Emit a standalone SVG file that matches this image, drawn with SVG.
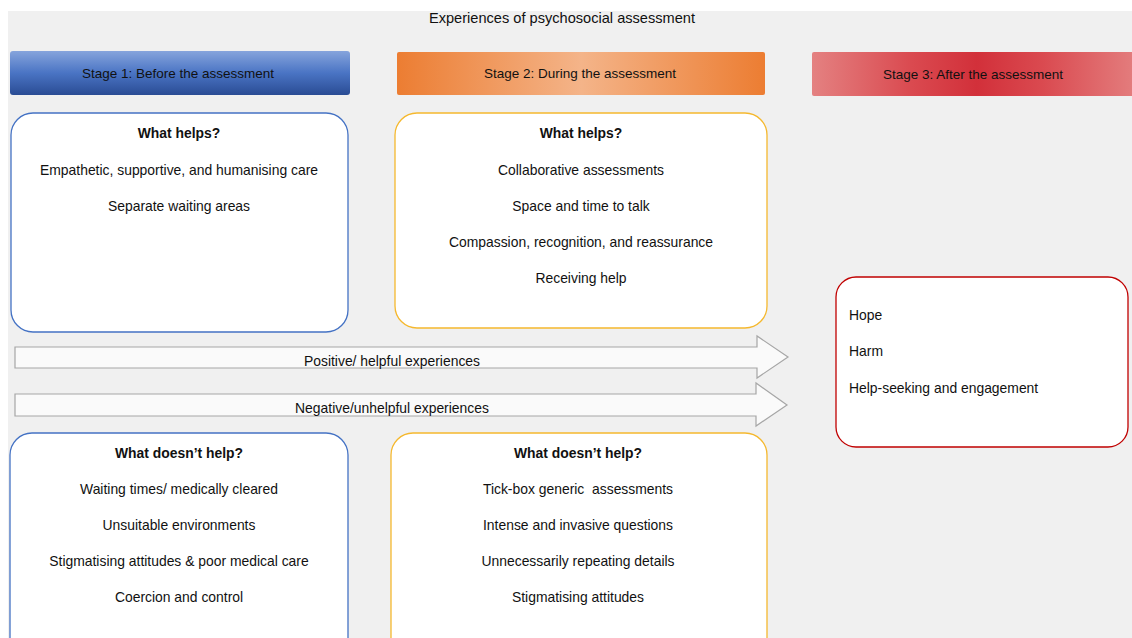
<svg xmlns="http://www.w3.org/2000/svg" width="1132" height="638" viewBox="0 0 1132 638">
<defs>
<style>
text{font-family:"Liberation Sans",Arial,sans-serif;font-size:13.9px;fill:#111}
.c{text-anchor:middle}
.b{font-weight:bold}
.s{font-size:13.5px}
.t{font-size:14.6px}
.box{fill:#fff;stroke-width:1.3}
.arrow{fill:#fafafa;stroke:#a6a6a6;stroke-width:1.2}
</style>
<linearGradient id="g1" x1="0" y1="0" x2="0" y2="1">
<stop offset="0" stop-color="#86a4dc"/><stop offset="0.5" stop-color="#4a74c4"/><stop offset="1" stop-color="#2a4c94"/>
</linearGradient>
<linearGradient id="g2" x1="0" y1="0" x2="1" y2="0">
<stop offset="0" stop-color="#ec7d32"/><stop offset="0.5" stop-color="#f4b489"/><stop offset="1" stop-color="#ec7d32"/>
</linearGradient>
<linearGradient id="g3" x1="0" y1="0" x2="1" y2="0">
<stop offset="0" stop-color="#e48181"/><stop offset="0.3" stop-color="#da4a50"/><stop offset="0.5" stop-color="#d2303a"/><stop offset="0.7" stop-color="#da4a50"/><stop offset="1" stop-color="#e48181"/>
</linearGradient>
</defs>
<rect x="0" y="0" width="1132" height="638" fill="#fff"/>
<rect x="8" y="11" width="1124" height="627" fill="#f0f0f0"/>
<text class="c t" x="562" y="23">Experiences of psychosocial assessment</text>

<g id="stage1"><rect x="10" y="51" width="340" height="44" rx="3" fill="url(#g1)"/><text class="c s" x="178" y="78">Stage 1: Before the assessment</text></g>
<g id="stage2"><rect x="397" y="52" width="368" height="43" rx="2" fill="url(#g2)"/><text class="c s" x="580" y="78">Stage 2: During the assessment</text></g>
<g id="stage3"><rect x="812" y="52" width="330" height="44" rx="2" fill="url(#g3)"/><text class="c s" x="973" y="79">Stage 3: After the assessment</text></g>

<g id="connectors">
<path class="arrow" d="M15 347 H757 V336 L788 357 L757 378 V368 H15 Z"/>
<path class="arrow" d="M15 394 H756 V383 L787 405 L756 426 V416 H15 Z"/>
<text class="c" x="392" y="366">Positive/ helpful experiences</text>
<text class="c" x="392" y="413">Negative/unhelpful experiences</text>
</g>

<g id="before-helps">
<rect class="box" x="11" y="113" width="337" height="219" rx="22" stroke="#4472c4"/>
<text class="c b" x="179" y="138">What helps?</text>
<text class="c" x="179" y="175">Empathetic, supportive, and humanising care</text>
<text class="c" x="179" y="211">Separate waiting areas</text>
</g>
<g id="during-helps">
<rect class="box" x="395" y="113" width="372" height="215" rx="22" stroke="#f5b82e"/>
<text class="c b" x="581" y="138">What helps?</text>
<text class="c" x="581" y="175">Collaborative assessments</text>
<text class="c" x="581" y="211">Space and time to talk</text>
<text class="c" x="581" y="247">Compassion, recognition, and reassurance</text>
<text class="c" x="581" y="283">Receiving help</text>
</g>
<g id="after">
<rect class="box" x="836" y="277" width="292" height="170" rx="20" stroke="#c00000"/>
<text x="849" y="320">Hope</text>
<text x="849" y="356">Harm</text>
<text x="849" y="393">Help-seeking and engagement</text>
</g>
<g id="before-not">
<rect class="box" x="10" y="433" width="338" height="230" rx="22" stroke="#4472c4"/>
<text class="c b" x="179" y="458">What doesn’t help?</text>
<text class="c" x="179" y="494">Waiting times/ medically cleared</text>
<text class="c" x="179" y="530">Unsuitable environments</text>
<text class="c" x="179" y="566">Stigmatising attitudes &amp; poor medical care</text>
<text class="c" x="179" y="602">Coercion and control</text>
</g>
<g id="during-not">
<rect class="box" x="391" y="433" width="376" height="230" rx="22" stroke="#f5b82e"/>
<text class="c b" x="578" y="458">What doesn’t help?</text>
<text class="c" x="578" y="494" xml:space="preserve">Tick-box generic  assessments</text>
<text class="c" x="578" y="530">Intense and invasive questions</text>
<text class="c" x="578" y="566">Unnecessarily repeating details</text>
<text class="c" x="578" y="602">Stigmatising attitudes</text>
</g>
</svg>
